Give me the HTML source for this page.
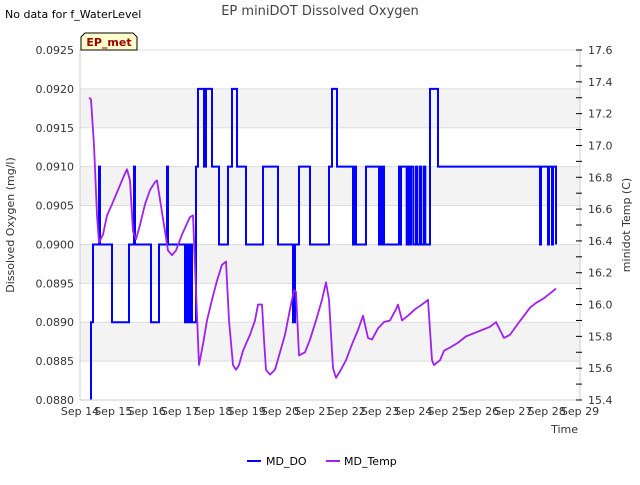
<!DOCTYPE html>
<html><head><meta charset="utf-8"><style>
body{margin:0;background:#fff;font-family:"Liberation Sans","DejaVu Sans",sans-serif}
svg text{font-family:"DejaVu Sans","Liberation Sans",sans-serif}
</style></head><body>
<svg id="c" width="640" height="480" viewBox="0 0 640 480">
<text x="5" y="18" font-size="11" fill="#000">No data for f_WaterLevel</text>
<text x="320" y="15" font-size="13" fill="#444" text-anchor="middle">EP miniDOT Dissolved Oxygen</text>
<g id="bands"></g>
<g id="grid"></g>
<g id="series"></g>
<g id="axes"></g>
<text x="14" y="225" font-size="11" fill="#333" text-anchor="middle" transform="rotate(-90 14 225)">Dissolved Oxygen (mg/l)</text>
<text x="630" y="225" font-size="11" fill="#333" text-anchor="middle" transform="rotate(-90 630 225)">minidot Temp (C)</text>
<text x="578" y="433" font-size="11" fill="#333" text-anchor="end">Time</text>
<g>
<path d="M81,50 L81,37 L85,33 L133,33 L137,37 L137,50 Z" fill="#ffffcc" stroke="#000" stroke-width="1"/>
<text x="109" y="46" font-size="11" font-weight="bold" fill="#990000" text-anchor="middle">EP_met</text>
</g>
<g>
<line x1="247" y1="461" x2="261" y2="461" stroke="#0000ff" stroke-width="2"/>
<text x="266" y="465" font-size="11" fill="#000">MD_DO</text>
</g>
<g>
<line x1="326" y1="461" x2="340" y2="461" stroke="#a020f0" stroke-width="2"/>
<text x="344" y="465" font-size="11" fill="#000">MD_Temp</text>
</g>
</svg>
<script>
const xTickLabels=["Sep 14","Sep 15","Sep 16","Sep 17","Sep 18","Sep 19","Sep 20","Sep 21","Sep 22","Sep 23","Sep 24","Sep 25","Sep 26","Sep 27","Sep 28","Sep 29"];
const leftTicks=[0.0880,0.0885,0.0890,0.0895,0.0900,0.0905,0.0910,0.0915,0.0920,0.0925];
const rightTicks=[15.4,15.6,15.8,16.0,16.2,16.4,16.6,16.8,17.0,17.2,17.4,17.6];
const doDays=[0.33,0.39,0.45,0.57,0.60,0.96,1.47,1.62,1.65,2.13,2.37,2.61,2.64,3.15,3.20,3.25,3.30,3.36,3.48,3.54,3.72,3.78,3.96,4.17,4.44,4.47,4.56,4.68,4.71,4.98,5.49,5.94,6.39,6.45,6.57,6.90,7.47,7.50,7.56,7.71,8.19,8.22,8.25,8.28,8.55,8.58,8.97,9.00,9.03,9.06,9.12,9.15,9.57,9.60,9.63,9.75,9.80,9.84,9.90,9.93,10.0,10.08,10.12,10.20,10.24,10.32,10.36,10.50,10.74,13.80,13.83,14.04,14.07,14.16,14.19,14.28];
const doVals=[0.0890,0.0900,0.0900,0.0910,0.0900,0.0890,0.0900,0.0910,0.0900,0.0890,0.0900,0.0910,0.0900,0.0890,0.0900,0.0890,0.0900,0.0890,0.0910,0.0920,0.0910,0.0920,0.0910,0.0900,0.0910,0.0910,0.0920,0.0920,0.0910,0.0900,0.0910,0.0900,0.0890,0.0900,0.0910,0.0900,0.0910,0.0910,0.0920,0.0910,0.0900,0.0910,0.0910,0.0900,0.0900,0.0910,0.0900,0.0910,0.0900,0.0910,0.0900,0.0900,0.0910,0.0900,0.0910,0.0910,0.0900,0.0910,0.0900,0.0910,0.0900,0.0910,0.0900,0.0910,0.0900,0.0910,0.0900,0.0920,0.0910,0.0900,0.0910,0.0900,0.0910,0.0900,0.0910,0.0900];
const tDays=[0.27,0.33,0.42,0.51,0.57,0.69,0.81,0.96,1.14,1.32,1.41,1.50,1.59,1.68,1.80,1.95,2.10,2.25,2.31,2.40,2.52,2.64,2.76,2.88,3.06,3.30,3.39,3.57,3.69,3.81,3.96,4.11,4.26,4.38,4.47,4.59,4.68,4.77,4.89,5.10,5.25,5.34,5.46,5.52,5.58,5.70,5.85,6.00,6.15,6.30,6.42,6.48,6.57,6.75,6.90,7.08,7.26,7.38,7.47,7.59,7.68,7.80,7.98,8.16,8.34,8.49,8.64,8.76,8.94,9.12,9.30,9.48,9.54,9.66,9.84,10.05,10.26,10.44,10.56,10.62,10.80,10.92,11.10,11.34,11.58,11.82,12.06,12.30,12.48,12.60,12.72,12.90,13.14,13.32,13.50,13.68,13.92,14.16,14.28];
const tVals=[17.30,17.29,17.00,16.56,16.39,16.44,16.56,16.63,16.72,16.81,16.85,16.78,16.46,16.41,16.50,16.63,16.72,16.77,16.78,16.66,16.50,16.34,16.31,16.34,16.44,16.55,16.56,15.62,15.75,15.90,16.03,16.15,16.25,16.27,15.90,15.62,15.59,15.62,15.71,15.81,15.90,16.00,16.00,15.78,15.59,15.56,15.59,15.70,15.81,15.97,16.09,16.08,15.68,15.70,15.78,15.90,16.03,16.14,16.03,15.60,15.54,15.58,15.65,15.75,15.84,15.93,15.79,15.78,15.85,15.89,15.90,15.97,16.00,15.90,15.93,15.97,16.00,16.03,15.65,15.62,15.65,15.71,15.73,15.76,15.80,15.82,15.84,15.86,15.89,15.84,15.79,15.81,15.88,15.93,15.98,16.01,16.04,16.08,16.10];

const L=80,R=580,T=50,B=400,NS='http://www.w3.org/2000/svg';
const xs=d=>L+d*(R-L)/15;
const yl=v=>B-(v-0.0880)/(0.0925-0.0880)*(B-T);
const yr=v=>B-(v-15.4)/(17.6-15.4)*(B-T);
function mk(tag,attrs,parent){const e=document.createElementNS(NS,tag);for(const k in attrs)e.setAttribute(k,attrs[k]);document.getElementById(parent).appendChild(e);return e;}
[[0.0915,0.0920],[0.0905,0.0910],[0.0895,0.0900],[0.0885,0.0890]].forEach(b=>{
 const r=mk('rect',{x:L,y:yl(b[1]),width:R-L,height:yl(b[0])-yl(b[1]),fill:'#f3f3f3'},'bands');
 
 
});
leftTicks.forEach(v=>{
 const g=mk('line',{x1:L,x2:R,y1:yl(v),y2:yl(v),stroke:'#dddddd','stroke-width':1},'grid');
 
 
 const t=mk('text',{x:L-6,y:yl(v)+4,'font-size':11,fill:'#333','text-anchor':'end'},'axes');
 t.textContent=v.toFixed(4);
 
 
});
mk('line',{x1:L,x2:L,y1:T,y2:B,stroke:'#cccccc'},'axes');
mk('line',{x1:R,x2:R,y1:T,y2:B,stroke:'#cccccc'},'axes');
mk('line',{x1:L,x2:R,y1:B,y2:B,stroke:'#cccccc'},'axes');
rightTicks.forEach((v,i)=>{
 mk('line',{x1:R-4,x2:R+2,y1:yr(v),y2:yr(v),stroke:'#000'},'axes');
 if(i<rightTicks.length-1)mk('line',{x1:R-4,x2:R+2,y1:yr(v+0.1),y2:yr(v+0.1),stroke:'#000'},'axes');
 const t=mk('text',{x:R+8,y:yr(v)+4,'font-size':11,fill:'#333'},'axes');
 t.textContent=v.toFixed(1);
 
 
});
xTickLabels.forEach((s,i)=>{
 const t=mk('text',{x:xs(i),y:415,'font-size':11,fill:'#333','text-anchor':'middle'},'axes');
 t.textContent=s;
 
 
});
let d='M'+xs(doDays[0])+','+yl(0.0880);
doDays.forEach((t,i)=>{
 const prev=i>0?doVals[i-1]:0.0880;
 d+=' L'+xs(t)+','+yl(prev)+' L'+xs(t)+','+yl(doVals[i]);
});
const p1=mk('path',{d:d,fill:'none',stroke:'#0000ff','stroke-width':2,'stroke-linejoin':'miter'},'series');


const pts=tDays.map((t,i)=>xs(t)+','+yr(tVals[i])).join(' ');
const p2=mk('polyline',{points:pts,fill:'none',stroke:'#a020f0','stroke-width':1.8,'stroke-linejoin':'round'},'series');


</script>
</body></html>
